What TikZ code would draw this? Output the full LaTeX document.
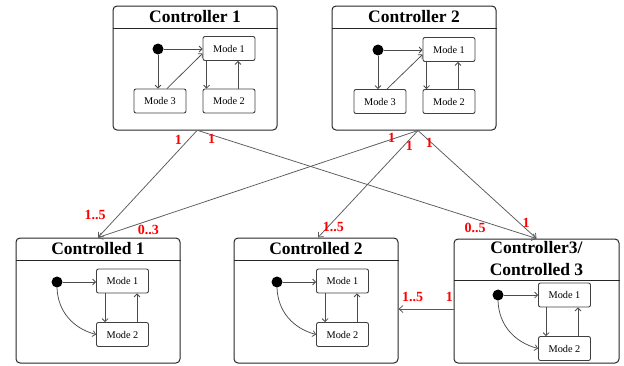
\documentclass[tikz,border=0pt]{standalone}
\usepackage{fontspec}
\setmainfont{Liberation Serif}
\usetikzlibrary{arrows.meta}
\begin{document}
\begin{tikzpicture}[x=1pt,y=-1pt,
  bigbox/.style={draw=black!85, line width=1pt, rounded corners=4pt, inner sep=0pt},
  ttl/.style={font=\bfseries\fontsize{17.5}{19}\selectfont, inner sep=0pt},
  mode/.style={draw=black!75, line width=0.9pt, rounded corners=2pt, minimum width=52pt, minimum height=24pt, inner sep=0pt, font=\fontsize{10.3}{12}\selectfont},
  initdot/.style={circle, fill=black, minimum size=11pt, inner sep=0pt},
  tr/.style={draw=black!70, line width=0.75pt, -{Straight Barb[length=3pt,width=6pt]}},
  conn/.style={draw=black!65, line width=0.75pt, -{Straight Barb[length=4pt,width=7pt]}},
  mult/.style={text=red, font=\bfseries\fontsize{14}{16}\selectfont, inner sep=0pt}]
\useasboundingbox (0,0) rectangle (624,365);

% ---------- Controller 1 ----------
\node[bigbox, minimum width=164pt, minimum height=124pt] (c1) at (195,68) {};
\draw[black!85, line width=1pt] (c1.west |- 0,28) -- (c1.east |- 0,28);
\node[ttl] (c1t) at (195,17) {Controller 1};
\node[initdot] (c1d) at (158,49) {};
\node[mode] (c1m1) at (229,48.5) {Mode 1};
\node[mode] (c1m3) at (160,101) {Mode 3};
\node[mode] (c1m2) at (229,101) {Mode 2};
\draw[tr] (c1d) -- (c1m1.west |- c1d);
\draw[tr] (c1d) -- (c1d |- c1m3.north);
\draw[tr] ([xshift=7pt]c1m3.north) -- ([yshift=-5pt]c1m1.west);
\draw[tr] ([xshift=4pt]c1m1.south west) -- ([xshift=4pt]c1m1.south west |- c1m2.north);
\draw[tr] ([xshift=9pt]c1m2.north) -- ([xshift=9pt]c1m2.north |- c1m1.south);

% ---------- Controller 2 ----------
\node[bigbox, minimum width=164pt, minimum height=124pt] (c2) at (414,68) {};
\draw[black!85, line width=1pt] (c2.west |- 0,28) -- (c2.east |- 0,28);
\node[ttl] (c2t) at (414,17) {Controller 2};
\node[initdot] (c2d) at (378,50) {};
\node[mode] (c2m1) at (449,49.5) {Mode 1};
\node[mode] (c2m3) at (380,101.5) {Mode 3};
\node[mode] (c2m2) at (449,101.5) {Mode 2};
\draw[tr] (c2d) -- (c2m1.west |- c2d);
\draw[tr] (c2d) -- (c2d |- c2m3.north);
\draw[tr] ([xshift=7pt]c2m3.north) -- ([yshift=-5pt]c2m1.west);
\draw[tr] ([xshift=4pt]c2m1.south west) -- ([xshift=4pt]c2m1.south west |- c2m2.north);
\draw[tr] ([xshift=9pt]c2m2.north) -- ([xshift=9pt]c2m2.north |- c2m1.south);

% ---------- Controlled 1 ----------
\node[bigbox, minimum width=164pt, minimum height=125pt] (d1) at (98,300.5) {};
\draw[black!85, line width=1pt] (d1.west |- 0,260) -- (d1.east |- 0,260);
\node[ttl] (d1t) at (98,249) {Controlled 1};
\node[initdot] (d1d) at (57,282) {};
\node[mode] (d1m1) at (122.5,281) {Mode 1};
\node[mode] (d1m2) at (122.5,334.5) {Mode 2};
\draw[tr] (d1d) -- (d1m1.west |- d1d);
\draw[tr] (d1d.south) to[out=-88,in=165] (d1m2.west);
\draw[tr] ([xshift=9pt]d1m1.south west) -- ([xshift=9pt]d1m1.south west |- d1m2.north);
\draw[tr] ([xshift=14.5pt]d1m2.north) -- ([xshift=14.5pt]d1m2.north |- d1m1.south);

% ---------- Controlled 2 ----------
\node[bigbox, minimum width=164pt, minimum height=125pt] (d2) at (316,300.5) {};
\draw[black!85, line width=1pt] (d2.west |- 0,260) -- (d2.east |- 0,260);
\node[ttl] (d2t) at (316,249) {Controlled 2};
\node[initdot] (d2d) at (277,282) {};
\node[mode] (d2m1) at (342.5,281) {Mode 1};
\node[mode] (d2m2) at (342.5,334.5) {Mode 2};
\draw[tr] (d2d) -- (d2m1.west |- d2d);
\draw[tr] (d2d.south) to[out=-88,in=165] (d2m2.west);
\draw[tr] ([xshift=9pt]d2m1.south west) -- ([xshift=9pt]d2m1.south west |- d2m2.north);
\draw[tr] ([xshift=14.5pt]d2m2.north) -- ([xshift=14.5pt]d2m2.north |- d2m1.south);

% ---------- Controller3 / Controlled 3 ----------
\node[bigbox, minimum width=165pt, minimum height=124pt] (d3) at (536.5,301) {};
\draw[black!85, line width=1pt] (d3.west |- 0,280) -- (d3.east |- 0,280);
\node[ttl] (d3t1) at (536.5,248) {Controller3/};
\node[ttl] (d3t2) at (536.5,270) {Controlled 3};
\node[initdot] (d3d) at (498,295) {};
\node[mode] (d3m1) at (564.5,295) {Mode 1};
\node[mode] (d3m2) at (564.5,348.5) {Mode 2};
\draw[tr] (d3d) -- (d3m1.west |- d3d);
\draw[tr] (d3d.south) to[out=-88,in=165] (d3m2.west);
\draw[tr] ([xshift=8pt]d3m1.south west) -- ([xshift=8pt]d3m1.south west |- d3m2.north);
\draw[tr] ([xshift=13.5pt]d3m2.north) -- ([xshift=13.5pt]d3m2.north |- d3m1.south);

% ---------- associations ----------
\draw[conn] ([xshift=2pt]c1.south) -- (d1.north);
\draw[conn] ([xshift=3pt]c1.south) -- (d3.north);
\draw[conn] ([xshift=4pt]c2.south) -- (d1.north);
\draw[conn] ([xshift=4pt]c2.south) -- ([xshift=2pt]d2.north);
\draw[conn] ([xshift=4pt]c2.south) -- (d3.north);
\draw[conn] (d3.west |- 0,309) -- (d2.east |- 0,309);

% ---------- multiplicities ----------
\node[mult] (l1) at (178.3,140) {1};
\node[mult] (l2) at (211.7,139) {1};
\node[mult] (l3) at (95,215) {1..5};
\node[mult] (l4) at (148.3,230) {0..3};
\node[mult] (l5) at (391.7,138.3) {1};
\node[mult] (l6) at (409.3,145.7) {1};
\node[mult] (l7) at (429.3,143.3) {1};
\node[mult] (l8) at (333.3,226.7) {1..5};
\node[mult] (l9) at (475,227.7) {0..5};
\node[mult] (l10) at (526,222.7) {1};
\node[mult] (l11) at (412.7,296.7) {1..5};
\node[mult] (l12) at (449.3,296.7) {1};
\end{tikzpicture}
\end{document}
